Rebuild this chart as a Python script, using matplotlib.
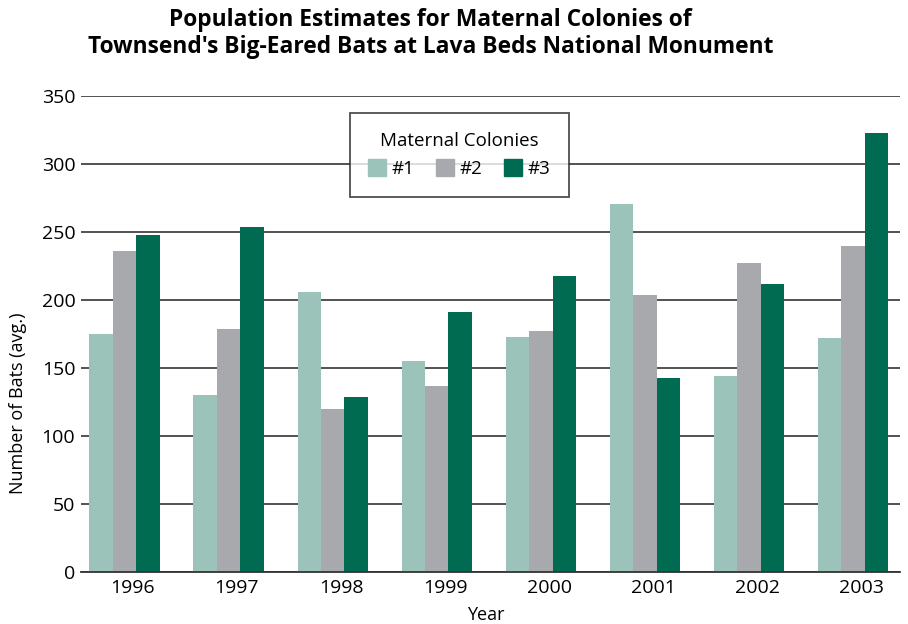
import matplotlib.pyplot as plt
import numpy as np
from matplotlib.patches import Patch

plt.rcParams['font.family'] = ['Open Sans', 'DejaVu Sans']

# Values
years = ['1996', '1997', '1998', '1999', '2000', '2001', '2002', '2003']
colony1 = [175, 130, 206, 155, 173, 271, 144, 172]
colony2 = [236, 179, 120, 137, 177, 204, 227, 240]
colony3 = [248, 254, 129, 191, 218, 143, 212, 323]
series_labels = ['#1', '#2', '#3']
colors = ['#9cc3b9', '#a8a9ad', '#006b50']

fig = plt.figure(figsize=(9.08, 6.24), dpi=100)
ax = fig.add_axes([0.089, 0.083, 0.902, 0.763])

x = np.arange(len(years))
w = 0.225
for i, vals in enumerate([colony1, colony2, colony3]):
    ax.bar(x + (i - 1) * w, vals, width=w, color=colors[i], zorder=2)

ax.set_ylim(0, 350)
ax.set_xlim(-0.42, 7.45)
ax.set_yticks(range(0, 351, 50))
ax.yaxis.grid(True, color='#444444', linewidth=1.3, zorder=1)
ax.set_axisbelow(True)
for s in ['top', 'right', 'left']:
    ax.spines[s].set_visible(False)
ax.spines['bottom'].set_color('#333333')
ax.spines['bottom'].set_linewidth(1.3)
ax.tick_params(axis='y', length=0, labelsize=14, pad=4)
ax.tick_params(axis='x', length=0, labelsize=14, pad=5)
ax.set_xticks(x + 0.08)
ax.set_xticklabels(years)

ax.set_xlabel('Year', fontsize=13)
ax.xaxis.set_label_coords(0.494, -0.071)
ax.set_ylabel('Number of Bats (avg.)', fontsize=13)
ax.yaxis.set_label_coords(-0.066, 0.355)

handles = [Patch(color=c, label=l) for c, l in zip(colors, series_labels)]
leg = ax.legend(handles=handles, title='Maternal Colonies', ncol=3,
                loc='upper center', bbox_to_anchor=(0.462, 0.964),
                borderaxespad=0,
                fontsize=13.5, title_fontsize=13.5, frameon=True, fancybox=False,
                edgecolor='#222222', handlelength=0.95, handleheight=1.0,
                columnspacing=1.15, handletextpad=0.3, borderpad=1.0,
                labelspacing=0.5)
leg.get_frame().set_linewidth(1.3)
leg.set_zorder(5)

fig.text(0.474, 0.968, 'Population Estimates for Maternal Colonies of',
         ha='center', va='center', fontsize=16.4, fontweight='bold')
fig.text(0.474, 0.925, "Townsend's Big-Eared Bats at Lava Beds National Monument",
         ha='center', va='center', fontsize=16.4, fontweight='bold')

fig.savefig('out.png', dpi=100)
